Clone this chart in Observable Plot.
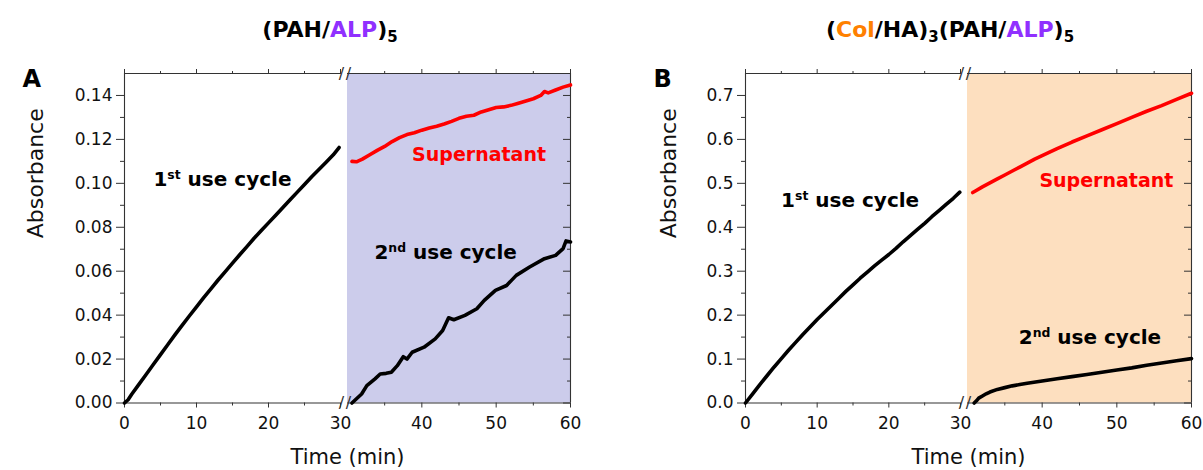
<!DOCTYPE html>
<html><head><meta charset="utf-8">
<script src="https://cdn.jsdelivr.net/npm/d3@7"></script>
<script src="https://cdn.jsdelivr.net/npm/@observablehq/plot@0.6"></script>
<style>
body{margin:0;background:#fff;font-family:"DejaVu Sans",sans-serif;}
#wrap{display:flex;width:1203px;height:470px;overflow:hidden;}
.col{position:relative;}
.title{position:relative;height:55px;}
.title .t{position:absolute;top:19px;transform:translateX(-50%);white-space:nowrap;font-weight:bold;font-size:22px;line-height:22px;color:#000;}
.sub{font-size:15px;position:relative;top:5px;}
</style></head><body>
<div id="wrap">
 <div class="col" id="colA" style="width:601px"><div class="title"><span class="t" style="left:330px">(PAH/<span style="color:#9030FF">ALP</span>)<span class="sub">5</span></span></div></div>
 <div class="col" id="colB" style="width:602px"><div class="title"><span class="t" style="left:349px">(<span style="color:#FF8000">Col</span>/HA)<span class="sub">3</span>(PAH/<span style="color:#9030FF">ALP</span>)<span class="sub">5</span></span></div></div>
</div>
<script>
// ---------- data ----------
const xTicks = [0, 10, 20, 30, 40, 50, 60];
const xMinor = [5, 15, 25, 35, 45, 55];
const yTicksA = [0, 0.02, 0.04, 0.06, 0.08, 0.10, 0.12, 0.14];
const yMinorA = [0.01, 0.03, 0.05, 0.07, 0.09, 0.11, 0.13];
const yTicksB = [0, 0.1, 0.2, 0.3, 0.4, 0.5, 0.6, 0.7];
const yMinorB = [0.05, 0.15, 0.25, 0.35, 0.45, 0.55, 0.65];

// Panel A: 1st use cycle
const tA1 = [0, 0.5, 1, 2, 3, 4, 5, 6, 7, 8, 9, 10, 11, 12, 13, 14, 15, 16, 17, 18, 19, 20, 21, 22, 23, 24, 25, 26, 27, 28, 29, 29.8];
const aA1 = [0, 0.0015, 0.004, 0.0085, 0.013, 0.0175, 0.022, 0.0265, 0.031, 0.0353, 0.0396, 0.0438, 0.048, 0.052, 0.056, 0.0598, 0.0637, 0.0675, 0.0712, 0.075, 0.0785, 0.082, 0.0855, 0.089, 0.0925, 0.096, 0.0995, 0.103, 0.1063, 0.1096, 0.113, 0.1163];
// Panel A: supernatant
const tAS = [30.6, 31.2, 32, 33, 34, 35, 36, 37, 38, 39, 40, 41, 42, 43, 44, 45, 46, 47, 48, 49, 50, 51, 52, 53, 54, 55, 56, 56.5, 57, 58, 59, 60];
const aAS = [0.110, 0.1098, 0.111, 0.113, 0.115, 0.1168, 0.119, 0.1208, 0.1222, 0.123, 0.1242, 0.1252, 0.126, 0.127, 0.1282, 0.1296, 0.1305, 0.131, 0.1325, 0.1335, 0.1345, 0.1348, 0.1355, 0.1365, 0.1375, 0.1385, 0.140, 0.1418, 0.1412, 0.1425, 0.1438, 0.1448];
// Panel A: 2nd use cycle
const tA2 = [30.6, 31.9, 32.6, 33.7, 34.4, 35.2, 35.9, 36.7, 37.5, 38.0, 38.7, 40.3, 41.8, 42.8, 43.6, 44.3, 45.8, 47.4, 48.4, 49.9, 51.4, 52.7, 54.5, 56.5, 58.0, 59.0, 59.4, 60.0];
const aA2 = [0, 0.0041, 0.0079, 0.011, 0.0132, 0.0135, 0.014, 0.017, 0.0211, 0.020, 0.0231, 0.0254, 0.0292, 0.033, 0.0388, 0.0379, 0.0399, 0.0429, 0.0467, 0.0513, 0.0535, 0.0581, 0.0619, 0.0657, 0.0672, 0.0703, 0.0738, 0.0733];

// Panel B: 1st use cycle
const tB1 = [0, 1, 2, 3, 4, 5, 6, 7, 8, 9, 10, 11, 12, 13, 14, 15, 16, 17, 18, 19, 20, 21, 22, 23, 24, 25, 26, 27, 28, 29, 29.9];
const aB1 = [0, 0.021, 0.042, 0.062, 0.082, 0.101, 0.12, 0.138, 0.156, 0.173, 0.19, 0.206, 0.222, 0.238, 0.254, 0.269, 0.284, 0.298, 0.312, 0.325, 0.338, 0.352, 0.367, 0.381, 0.395, 0.409, 0.424, 0.438, 0.452, 0.466, 0.48];
// Panel B: supernatant
const tBS = [30.7, 31, 32, 33, 34, 35, 36, 37, 38, 39, 40, 42, 44, 46, 48, 50, 52, 54, 56, 58, 60];
const aBS = [0.479, 0.482, 0.492, 0.501, 0.51, 0.519, 0.528, 0.537, 0.546, 0.555, 0.563, 0.579, 0.594, 0.608, 0.622, 0.636, 0.65, 0.664, 0.677, 0.691, 0.705];
// Panel B: 2nd use cycle
const tB2 = [30.9, 31.2, 31.5, 32, 32.5, 33, 34, 35, 36, 37, 38, 40, 42, 44, 46, 48, 50, 52, 54, 56, 58, 60];
const aB2 = [0, 0.005, 0.011, 0.016, 0.021, 0.025, 0.031, 0.035, 0.039, 0.042, 0.045, 0.05, 0.055, 0.06, 0.065, 0.07, 0.075, 0.08, 0.086, 0.091, 0.096, 0.101];

// annotations
const notesA = [
  {t: 13.6, a: 0.1015, label: "1st use cycle", color: "#000", size: 20},
  {t: 47.7, a: 0.113, label: "Supernatant", color: "#FF0000", size: 19},
  {t: 43.2, a: 0.0683, label: "2nd use cycle", color: "#000", size: 20}
];
const notesB = [
  {t: 14.6, a: 0.46, label: "1st use cycle", color: "#000", size: 20},
  {t: 48.6, a: 0.505, label: "Supernatant", color: "#FF0000", size: 19},
  {t: 46.4, a: 0.148, label: "2nd use cycle", color: "#000", size: 20}
];

// ---------- drawing ----------
const xBreak = 30, xBreak2 = 30.001, xMax = 60;
const zip = (ts, as) => ts.map((t, i) => ({t, a: as[i]}));

function panel(o) {
  const height = 415, marginTop = 18, marginBottom = 67.5;
  const [y0, y1] = o.yDomain;
  const ax = "#333";
  const fmt = d3.format(o.yFormat);
  const breaks = [{t: xBreak, a: y0}, {t: xBreak2, a: y0}, {t: xBreak, a: y1}, {t: xBreak2, a: y1}];
  const svg = Plot.plot({
    width: o.width, height, marginLeft: o.marginLeft, marginRight: o.marginRight, marginTop, marginBottom,
    style: {fontFamily: "'DejaVu Sans', sans-serif", color: "#111", background: "transparent", overflow: "visible"},
    x: {type: "linear", domain: [0, xBreak, xBreak2, xMax], range: o.xRange, label: null},
    y: {domain: o.yDomain, label: null},
    marks: [
      Plot.rect([0], {x1: xBreak2, x2: xMax, y1: y0, y2: y1, fill: o.shade}),
      // frame (broken at the axis break)
      Plot.ruleX([0, xMax], {stroke: ax, strokeWidth: 1.1}),
      Plot.ruleY([y0, y1], {x1: 0, x2: xBreak, stroke: ax, strokeWidth: 1.1}),
      Plot.ruleY([y0, y1], {x1: xBreak2, x2: xMax, stroke: ax, strokeWidth: 1.1}),
      Plot.text(breaks, {x: "t", y: "a", text: () => "/", fontSize: 16, fill: ax, lineAnchor: "middle", dx: 1}),
      // axes
      Plot.axisX(xTicks, {anchor: "bottom", tickSize: 5, tickPadding: 9, fontSize: 17, tickFormat: d3.format("d"), stroke: ax, label: null}),
      Plot.axisX(xMinor, {anchor: "bottom", tickSize: 3, fill: "none", stroke: ax, label: null}),
      Plot.axisX(xTicks, {anchor: "top", tickSize: 5, fill: "none", stroke: ax, label: null}),
      Plot.axisX(xMinor, {anchor: "top", tickSize: 3, fill: "none", stroke: ax, label: null}),
      Plot.axisY(o.yTicks, {anchor: "left", tickSize: 8, tickPadding: 4, fontSize: 17, tickFormat: fmt, stroke: ax, label: null}),
      Plot.axisY(o.yMinor, {anchor: "left", tickSize: 4, fill: "none", stroke: ax, label: null}),
      Plot.axisY(o.yTicks, {anchor: "right", tickSize: -8, fill: "none", stroke: ax, label: null}),
      Plot.axisY(o.yMinor, {anchor: "right", tickSize: -4, fill: "none", stroke: ax, label: null}),
      // data
      ...o.series.map(s => Plot.line(s.data, {x: "t", y: "a", stroke: s.color, strokeWidth: 3.6, strokeLinejoin: "round", strokeLinecap: "round"})),
      // annotations
      ...o.notes.map(n => Plot.text([n], {x: "t", y: "a", text: "label", fill: n.color, fontSize: n.size, fontWeight: "bold", lineAnchor: "middle"})),
      // axis titles & panel letter
      Plot.text(["Time (min)"], {frameAnchor: "bottom", dy: 54, fontSize: 21, lineAnchor: "middle", fill: "#111"}),
      Plot.text(["Absorbance"], {frameAnchor: "left", rotate: -90, dx: o.yLabelDx, fontSize: 22, lineAnchor: "middle", fill: "#111"}),
      Plot.text([o.letter], {frameAnchor: "top-left", dx: o.letterDx, dy: 6, fontSize: 24, fontWeight: "bold", lineAnchor: "middle", fill: "#000"})
    ]
  });
  // superscript ordinals (1st, 2nd)
  d3.select(svg).selectAll("text").each(function() {
    const m = /^(\d)(st|nd|rd|th) (.+)$/.exec(this.textContent);
    if (!m) return;
    const el = d3.select(this);
    el.text(null);
    el.append("tspan").text(m[1]);
    el.append("tspan").style("font-size", "62%").attr("dy", -7).text(m[2]);
    el.append("tspan").attr("dy", 7).text(" " + m[3]);
  });
  return svg;
}

document.getElementById("colA").appendChild(panel({
  width: 601, marginLeft: 124, marginRight: 31, xRange: [124, 340, 347, 570],
  yDomain: [0, 0.15], yTicks: yTicksA, yMinor: yMinorA, yFormat: ".2f",
  shade: "#CCCCEB",
  series: [
    {data: zip(tA1, aA1), color: "#000"},
    {data: zip(tAS, aAS), color: "#FF0000"},
    {data: zip(tA2, aA2), color: "#000"}
  ],
  notes: notesA, letter: "A", letterDx: -102, yLabelDx: -89
}));
document.getElementById("colB").appendChild(panel({
  width: 602, marginLeft: 144, marginRight: 12, xRange: [144, 359, 366, 590],
  yDomain: [0, 0.75], yTicks: yTicksB, yMinor: yMinorB, yFormat: ".1f",
  shade: "#FDDFBF",
  series: [
    {data: zip(tB1, aB1), color: "#000"},
    {data: zip(tBS, aBS), color: "#FF0000"},
    {data: zip(tB2, aB2), color: "#000"}
  ],
  notes: notesB, letter: "B", letterDx: -92, yLabelDx: -77
}));
</script>
</body></html>
